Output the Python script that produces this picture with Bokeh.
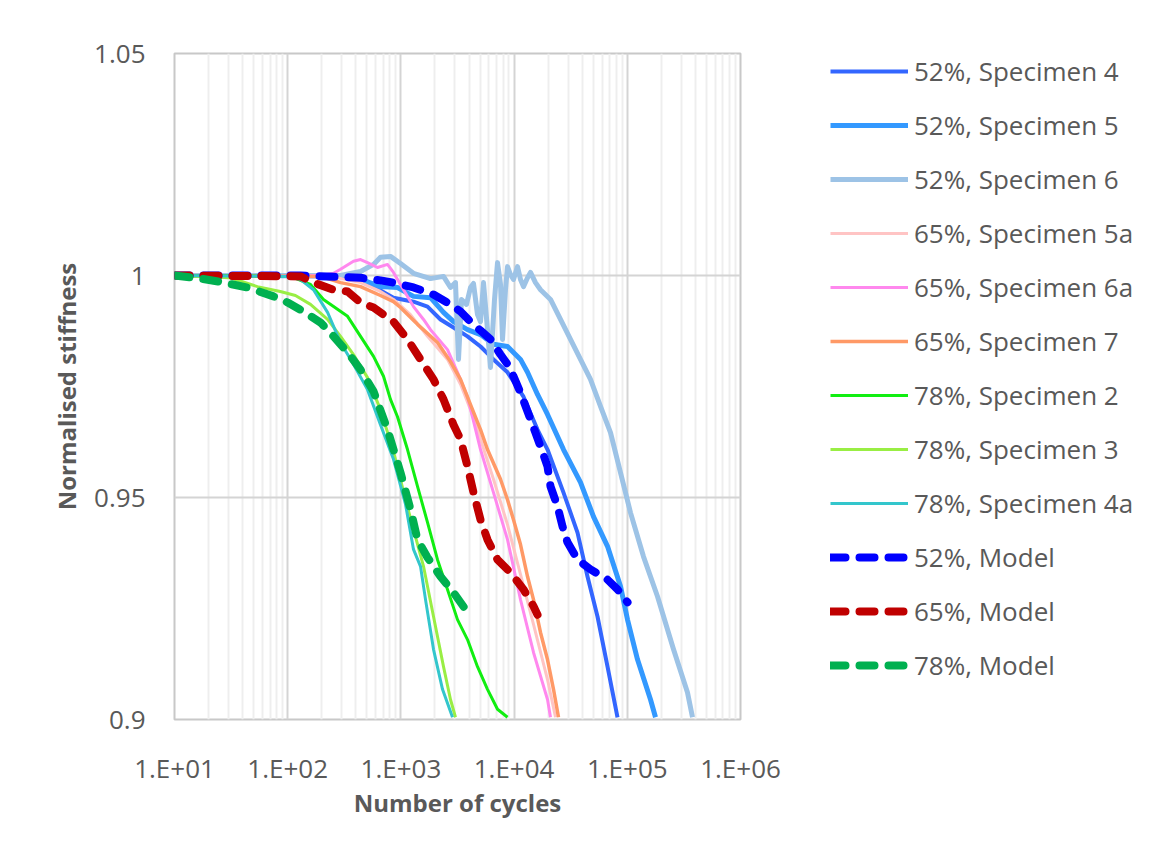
from bokeh.plotting import figure
from bokeh.layouts import row
from bokeh.models import Range1d, FixedTicker, Legend, LegendItem
from bokeh.embed import file_html
from bokeh.resources import INLINE

# ---------------- data ----------------
x_ticks = [10, 100, 1000, 10000, 100000, 1000000]
x_tick_labels = ["1.E+01", "1.E+02", "1.E+03", "1.E+04", "1.E+05", "1.E+06"]
y_ticks = [0.9, 0.95, 1.0, 1.05]
y_tick_labels = ["0.9", "0.95", "1", "1.05"]

s52_4_n = [10, 293, 440, 573, 860, 1292, 1718, 2238, 2915, 3876, 5050, 6577, 8745, 12106,
           16097, 19730, 27320, 36320, 44500, 54540, 66870, 81930]
s52_4_v = [1.0, 0.9998, 0.9989, 0.9975, 0.9950, 0.9941, 0.9930, 0.9901, 0.9883, 0.9863, 0.9840,
           0.9811, 0.9782, 0.9727, 0.9653, 0.9608, 0.9511, 0.9421, 0.9322, 0.9232, 0.9119, 0.9005]

s52_5_n = [10, 293, 507, 660, 933, 1292, 1826, 2379, 2915, 3876, 5050, 6577, 8745, 11390, 13138,
           16097, 19730, 27320, 38600, 50280, 66870, 87090, 100400, 123100, 160300, 177500]
s52_5_v = [1.0, 1.0, 0.9986, 0.9975, 0.9973, 0.9953, 0.9950, 0.9917, 0.9896, 0.9878, 0.9867,
           0.9845, 0.9840, 0.9811, 0.9782, 0.9732, 0.9687, 0.9608, 0.9534, 0.9457, 0.9390, 0.9300,
           0.9225, 0.9135, 0.9045, 0.9005]

s52_6_n = [10, 293, 440, 573, 660, 809, 992, 1292, 1826, 2379, 2742, 3036, 3227, 3430, 3797, 4119,
           4379, 4750, 5050, 5367, 5821, 6187, 6713, 7135, 7584, 7901, 8395, 8745, 9295, 9880,
           10715, 11390, 12106, 13138, 13964, 15450, 17110, 20970, 25700, 31490, 38600, 47300,
           57990, 71080, 87090, 106700, 139000, 184900, 255900, 340200, 376700]
s52_6_v = [1.0, 1.0, 1.0009, 1.0025, 1.0041, 1.0043, 1.0027, 1.0005, 0.9993, 0.9998, 0.9973, 0.9984,
           0.9811, 0.9946, 0.9935, 0.9973, 0.9982, 0.9912, 0.9896, 0.9984, 0.9878, 0.9793, 0.9946,
           1.0029, 0.9980, 0.9856, 0.9968, 1.0020, 1.0002, 0.9991, 1.0020, 0.9991, 0.9975, 0.9995,
           1.0007, 0.9984, 0.9968, 0.9946, 0.9901, 0.9856, 0.9811, 0.9766, 0.9705, 0.9646, 0.9556,
           0.9466, 0.9367, 0.9277, 0.9158, 0.9061, 0.9005]

s65_5a_n = [10, 239, 440, 660, 860, 1216, 1718, 2580, 3362, 4119, 5050, 6577, 8745, 11390, 14842,
            19730, 23220]
s65_5a_v = [1.0, 0.9998, 0.9984, 0.9964, 0.9946, 0.9912, 0.9863, 0.9811, 0.9755, 0.9698, 0.9631,
            0.9541, 0.9439, 0.9327, 0.9214, 0.9090, 0.9005]

s65_6a_n = [10, 195, 254, 293, 381, 440, 507, 621, 761, 860, 1054, 1292, 1584, 1826, 2580, 3162,
            3876, 5050, 6577, 8745, 11390, 14842, 19730, 20970]
s65_6a_v = [1.0, 1.0, 1.0005, 1.0014, 1.0032, 1.0036, 1.0029, 1.0018, 1.0025, 1.0007, 0.9968, 0.9930,
            0.9901, 0.9878, 0.9833, 0.9782, 0.9727, 0.9608, 0.9511, 0.9405, 0.9270, 0.9151, 0.9045,
            0.9005]

s65_7_n = [10, 195, 293, 440, 660, 860, 992, 1402, 2106, 2742, 3362, 4119, 5050, 5821, 7584, 8745,
           9880, 11390, 13138, 14842, 17110, 19730, 22290, 24670]
s65_7_v = [1.0, 0.9998, 0.9984, 0.9975, 0.9955, 0.9941, 0.9928, 0.9890, 0.9849, 0.9806, 0.9766,
           0.9709, 0.9653, 0.9608, 0.9541, 0.9495, 0.9450, 0.9394, 0.9322, 0.9270, 0.9196, 0.9135,
           0.9068, 0.9005]

s78_2_n = [10, 106, 159, 207, 338, 440, 573, 702, 809, 933, 1144, 1402, 1718, 2106, 2580, 3162,
           3876, 4750, 5821, 7135, 8745]
s78_2_v = [1.0, 0.9998, 0.9980, 0.9946, 0.9908, 0.9863, 0.9818, 0.9773, 0.9721, 0.9682, 0.9608,
           0.9525, 0.9444, 0.9360, 0.9293, 0.9225, 0.9180, 0.9119, 0.9068, 0.9023, 0.9005]

s78_3_n = [10, 31, 54, 86, 117, 159, 225, 293, 381, 507, 660, 860, 1098, 1292, 1584, 1941, 2379,
           2742, 3036]
s78_3_v = [1.0, 0.9995, 0.9975, 0.9964, 0.9955, 0.9935, 0.9901, 0.9863, 0.9822, 0.9770, 0.9698,
           0.9604, 0.9495, 0.9428, 0.9345, 0.9232, 0.9119, 0.9045, 0.9005]

s78_4a_n = [10, 100, 130, 169, 225, 293, 381, 507, 660, 860, 1098, 1292, 1490, 1650, 1941, 2331, 2857]
s78_4a_v = [1.0, 0.9998, 0.9991, 0.9968, 0.9917, 0.9849, 0.9800, 0.9743, 0.9664, 0.9586, 0.9485,
            0.9383, 0.9345, 0.9270, 0.9158, 0.9068, 0.9005]

m52_n = [10, 130, 440, 660, 860, 1292, 1941, 2742, 3362, 4119, 5050, 6187, 7584, 8745, 9880,
         11390, 13964, 17110, 19730, 20970, 24170, 26770, 29630, 36320, 47300, 66870, 81930, 100400]
m52_v = [1.0, 1.0, 0.9995, 0.9989, 0.9984, 0.9973, 0.9957, 0.9935, 0.9919, 0.9896, 0.9876, 0.9856,
         0.9822, 0.9800, 0.9773, 0.9736, 0.9676, 0.9615, 0.9570, 0.9525, 0.9480, 0.9435, 0.9399,
         0.9360, 0.9338, 0.9315, 0.9293, 0.9264]

m65_n = [10, 130, 169, 254, 338, 440, 573, 860, 1144, 1490, 1941, 2379, 2915, 3362, 3876, 4379,
         5050, 5821, 7135, 9295, 12106, 14842, 16097]
m65_v = [1.0, 0.9998, 0.9984, 0.9968, 0.9964, 0.9939, 0.9928, 0.9896, 0.9856, 0.9811, 0.9766,
         0.9721, 0.9664, 0.9631, 0.9570, 0.9511, 0.9450, 0.9405, 0.9360, 0.9331, 0.9293, 0.9255,
         0.9236]

m78_n = [10, 17, 25, 44, 75, 100, 138, 195, 254, 338, 440, 573, 761, 992, 1216, 1402, 1718, 2238,
         2915, 3721]
m78_v = [1.0, 0.9993, 0.9986, 0.9973, 0.9953, 0.9939, 0.9919, 0.9894, 0.9863, 0.9827, 0.9788,
         0.9739, 0.9653, 0.9556, 0.9473, 0.9405, 0.9365, 0.9322, 0.9286, 0.9248]

series = [
    ("52%, Specimen 4", s52_4_n, s52_4_v, "#3366ff", 4, None),
    ("52%, Specimen 5", s52_5_n, s52_5_v, "#3399ff", 5, None),
    ("52%, Specimen 6", s52_6_n, s52_6_v, "#9dc3e6", 5, None),
    ("65%, Specimen 5a", s65_5a_n, s65_5a_v, "#ffc4c4", 3, None),
    ("65%, Specimen 6a", s65_6a_n, s65_6a_v, "#ff88ee", 3, None),
    ("65%, Specimen 7", s65_7_n, s65_7_v, "#ff9966", 3.5, None),
    ("78%, Specimen 2", s78_2_n, s78_2_v, "#11ee11", 3, None),
    ("78%, Specimen 3", s78_3_n, s78_3_v, "#99ee44", 3, None),
    ("78%, Specimen 4a", s78_4a_n, s78_4a_v, "#33c6cc", 3, None),
    ("52%, Model", m52_n, m52_v, "#0000ff", 8, "15 14"),
    ("65%, Model", m65_n, m65_v, "#c00000", 8, "15 14"),
    ("78%, Model", m78_n, m78_v, "#00b050", 8, "15 14"),
]

FONT = "Open Sans"
TXT = "#595959"

p = figure(width=800, height=859, x_axis_type="log",
           x_range=Range1d(10, 1e6), y_range=Range1d(0.9, 1.05),
           output_backend="svg", toolbar_location=None,
           min_border_left=174, min_border_right=60,
           min_border_top=53, min_border_bottom=140)
p.background_fill_color = "white"
p.border_fill_color = "white"
p.outline_line_color = "#c8c8c8"
p.outline_line_width = 2

# axes
p.xaxis.ticker = FixedTicker(ticks=x_ticks, minor_ticks=[m * d for d in x_ticks[:-1] for m in range(2, 10)])
p.xaxis.major_label_overrides = {t: l for t, l in zip(x_ticks, x_tick_labels)}
p.yaxis.ticker = FixedTicker(ticks=y_ticks)
p.yaxis.major_label_overrides = {t: l for t, l in zip(y_ticks, y_tick_labels)}
for ax in (p.xaxis[0], p.yaxis[0]):
    ax.axis_line_color = None
    ax.major_tick_line_color = None
    ax.minor_tick_line_color = None
    ax.major_label_text_font = FONT
    ax.major_label_text_font_size = "26px"
    ax.major_label_text_color = TXT
    ax.axis_label_text_font = FONT
    ax.axis_label_text_font_size = "24px"
    ax.axis_label_text_font_style = "bold"
    ax.axis_label_text_color = TXT
p.xaxis.axis_label = "Number of cycles"
p.yaxis.axis_label = "Normalised stiffness"
p.xaxis.major_label_standoff = 24
p.yaxis.major_label_standoff = 23
p.xaxis.axis_label_standoff = -3
p.yaxis.axis_label_standoff = 8

# grids
p.xgrid.grid_line_color = "#d4d4d4"
p.xgrid.grid_line_width = 2
p.xgrid.minor_grid_line_color = "#eeeeee"
p.xgrid.minor_grid_line_width = 2
p.ygrid.grid_line_color = "#d4d4d4"
p.ygrid.grid_line_width = 2

# legend panel (separate figure to the right of the chart; its lines lie outside its ranges)
pl = figure(width=358, height=859, x_range=Range1d(0, 1), y_range=Range1d(0, 1),
            x_axis_location=None, y_axis_location=None,
            output_backend="svg", toolbar_location=None, min_border=0)
pl.grid.visible = False
pl.outline_line_color = None
pl.background_fill_color = "white"
pl.border_fill_color = "white"

items = []
for label, n, v, color, lw, dash in series:
    kw = dict(line_color=color, line_width=lw, line_join="round")
    if dash:
        kw["line_dash"] = dash
        kw["line_cap"] = "round"
    p.line(n, v, **kw)
    proxy = pl.line(n, v, **kw)
    items.append(LegendItem(label=label, renderers=[proxy]))

legend = Legend(items=items, location=(30, 36), orientation="vertical",
                glyph_width=78, glyph_height=36, label_height=36, spacing=18,
                padding=0, margin=0,
                label_standoff=6, label_text_font=FONT, label_text_font_size="26px",
                label_text_color=TXT, border_line_color=None, background_fill_alpha=0)
pl.add_layout(legend, "center")

layout = row(p, pl, spacing=0)
open("out.html", "w").write(file_html(layout, INLINE))
